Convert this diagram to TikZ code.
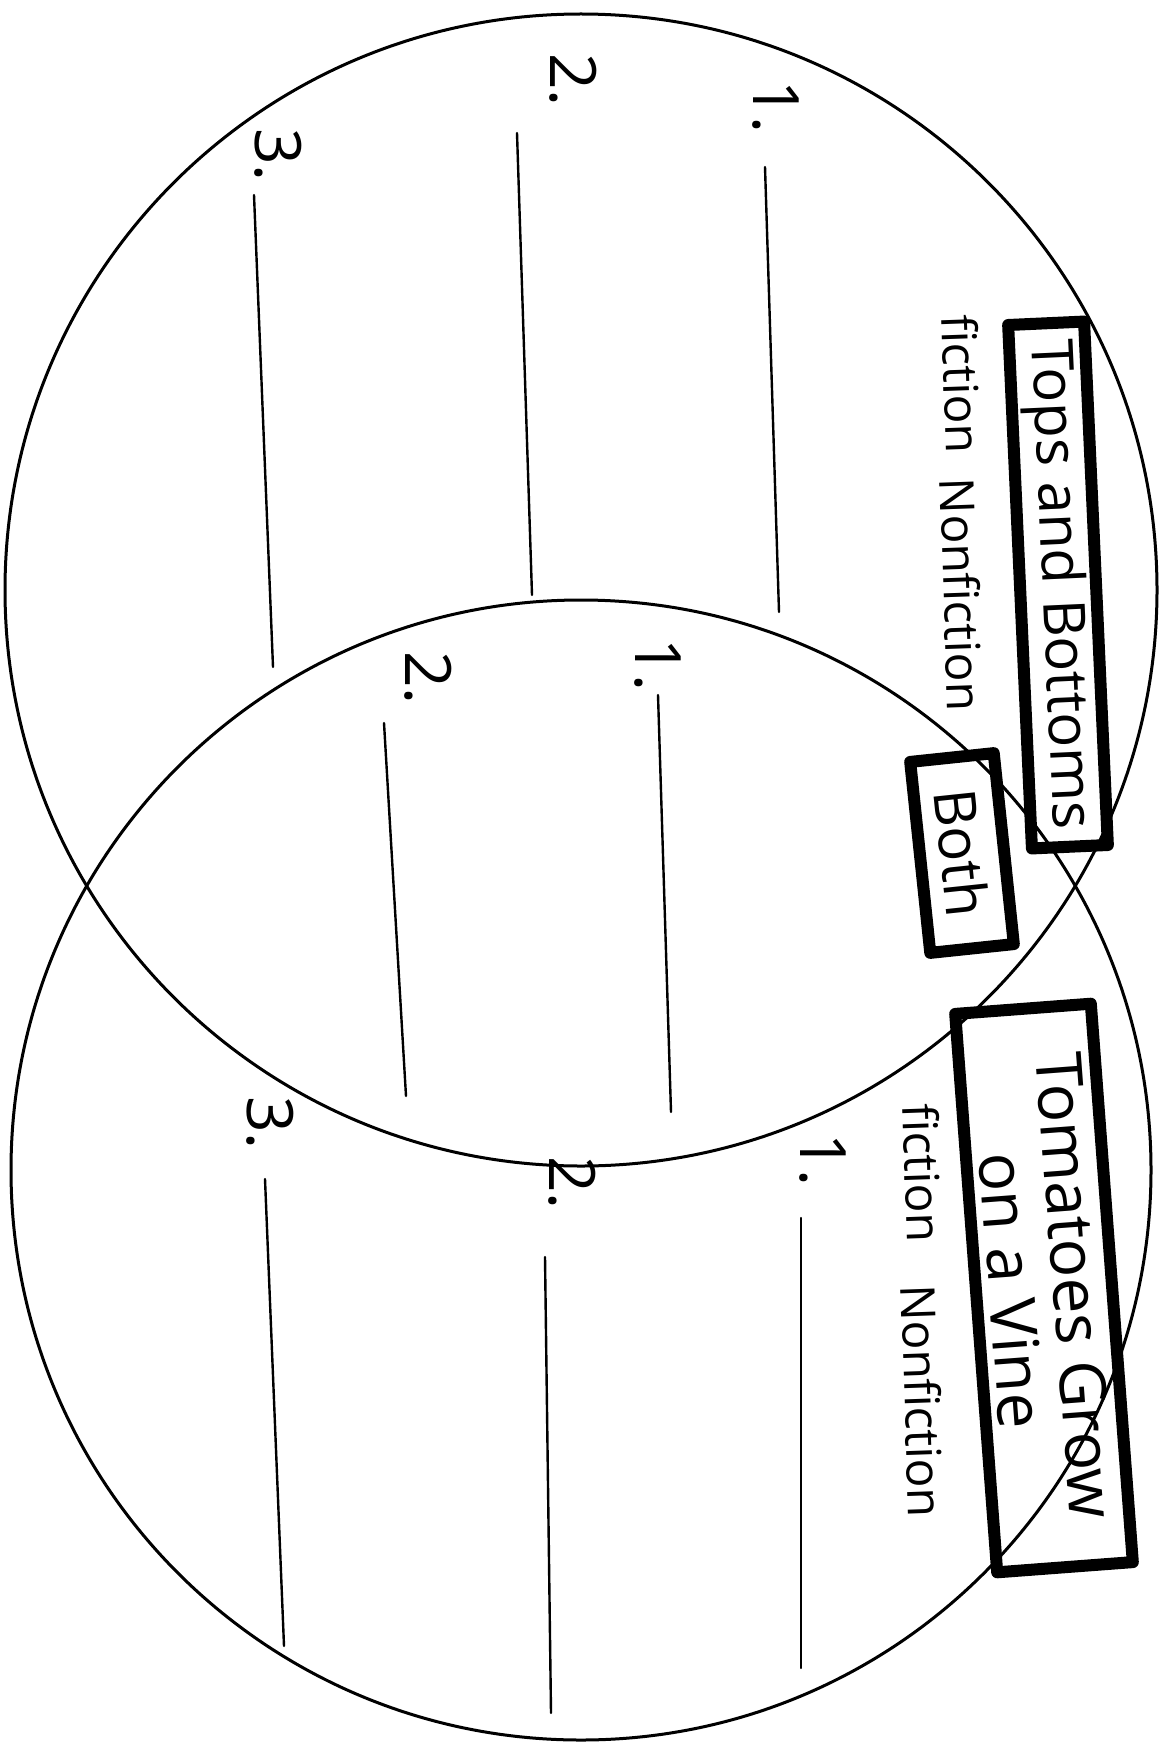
\documentclass[tikz,border=0pt]{standalone}
\usepackage{fontspec}
\setmainfont{Open Sans}
\begin{document}
\begin{tikzpicture}[x=0.5pt, y=-0.5pt, line join=round, line cap=round]
  \tikzset{every node/.style={inner sep=0pt},
    ring/.style={line width=1.5pt},
    blank/.style={line width=1.2pt},
    num/.style={rotate=-90, font=\fontsize{32}{36}\selectfont},
    kind/.style={rotate=-88, font=\fontsize{24}{28}\selectfont},
    titlebox/.style={draw, line width=6pt, font=\fontsize{29}{32}\selectfont, align=center}}
  \useasboundingbox (0,0) rectangle (1169,1744);
  % the two sets
  \draw[ring] (581,590) circle [radius=288pt];
  \draw[ring] (581,1170) circle [radius=285pt];
  % titles
  \node[titlebox, rotate=-87.4, minimum width=262pt, minimum height=38pt] (tops) at (1058,585) {Tops and Bottoms};
  \node[titlebox, rotate=-84, minimum width=96pt, minimum height=42pt] (both) at (962,853) {Both};
  \node[titlebox, rotate=-85.7, minimum width=280pt, minimum height=68pt, font=\fontsize{32}{32}\selectfont] (tomatoes) at (1044,1288) {Tomatoes Grow\\on a Vine};
  \node[kind] (fica) at (962,384) {fiction};
  \node[kind] (nonfa) at (962,595) {Nonfiction};
  \node[kind] (ficb) at (923,1173) {fiction};
  \node[kind] (nonfb) at (923,1401) {Nonfiction};
  % numbered blanks
  \foreach \n/\t/\x/\y in {ta/1./776/107, tb/2./573/80, tc/3./278/155, ma/1./658/665, mb/2./428/678,
      ba/1./823/1160, bb/2./572/1183, bc/3./270/1123}
    \node[num] (\n) at (\x,\y) {\t};
  \foreach \xa/\ya/\xb/\yb in {765/167/779/612, 517/133/532/595, 254/195/273/667, 658/695/671/1112,
      384/723/406/1096, 801/1218/801/1668, 545/1257/551/1713, 265/1179/284/1646}
    \draw[blank] (\xa,\ya) -- (\xb,\yb);
\end{tikzpicture}
\end{document}
